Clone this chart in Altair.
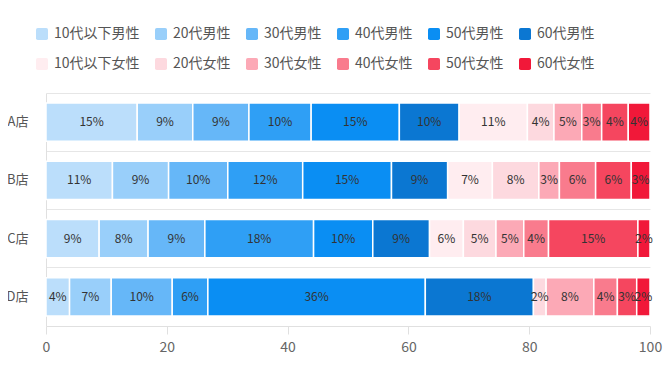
import altair as alt
import pandas as pd

stores = ["A店", "B店", "C店", "D店"]
groups = ["10代以下男性", "20代男性", "30代男性", "40代男性", "50代男性", "60代男性",
          "10代以下女性", "20代女性", "30代女性", "40代女性", "50代女性", "60代女性"]
colors = ["#bbdefb", "#99cffa", "#66b7f8", "#2f9ff5", "#0a8ef3", "#0b77d2",
          "#ffedf0", "#fdd9df", "#fca9b6", "#f97b8d", "#f5465f", "#f11839"]

values_a = [15.1, 9.2, 9.3, 10.3, 14.6, 9.9, 11.3, 4.4, 4.6, 3.3, 4.4, 3.6]
values_b = [11.0, 9.3, 9.8, 12.4, 14.7, 9.3, 7.4, 7.7, 3.4, 6.0, 5.9, 3.1]
values_c = [8.8, 8.1, 9.4, 18.0, 9.8, 9.4, 5.6, 5.4, 4.6, 4.1, 14.8, 2.0]
values_d = [3.9, 6.9, 10.1, 5.9, 36.0, 17.9, 0.0, 2.1, 7.9, 3.9, 3.2, 2.2]

rows = []
for store, vals in zip(stores, [values_a, values_b, values_c, values_d]):
    for i, (g, v) in enumerate(zip(groups, vals)):
        rows.append({"store": store, "group": g, "order": i, "value": v,
                     "label": f"{round(v):d}%"})
df = pd.DataFrame(rows)

FONT = "Noto Sans CJK JP"
rounded = ("M-0.7,-1 L0.7,-1 Q1,-1 1,-0.7 L1,0.7 Q1,1 0.7,1 L-0.7,1 "
           "Q-1,1 -1,0.7 L-1,-0.7 Q-1,-1 -0.7,-1 Z")

base = alt.Chart(df).transform_filter("datum.value > 0").transform_stack(
    stack="value", as_=["x0", "x1"], groupby=["store"],
    sort=[alt.SortField("order", order="ascending")]
)

y_enc = alt.Y("store:N", sort=stores, title=None,
              scale=alt.Scale(paddingInner=0, paddingOuter=0),
              axis=alt.Axis(grid=True, bandPosition=0, gridColor="#e6e6e6",
                            domainColor="#e0e0e0", ticks=False, labelPadding=18,
                            labelFontSize=13, labelColor="#555", labelFont=FONT))

bars = base.mark_bar(height=alt.RelativeBandSize(0.66), stroke="white",
                     strokeWidth=1.5).encode(
    x=alt.X("x0:Q", title=None,
            scale=alt.Scale(domain=[0, 100], nice=False),
            axis=alt.Axis(values=[0, 20, 40, 60, 80, 100], grid=False,
                          labelFlush=False,
                          domainColor="#e0e0e0", tickColor="#e0e0e0", tickSize=8,
                          labelPadding=6, labelFontSize=14, labelColor="#666",
                          labelFont=FONT)),
    x2="x1:Q",
    y=y_enc,
    color=alt.Color("group:N", sort=groups,
                    scale=alt.Scale(domain=groups, range=colors),
                    legend=alt.Legend(title=None, orient="none", legendX=-11,
                                      legendY=-66, columns=6, direction="horizontal",
                                      symbolType=rounded,
                                      symbolSize=144, symbolStrokeWidth=0,
                                      symbolOpacity=1,
                                      labelFontSize=14, labelColor="#555",
                                      labelFont=FONT, labelOffset=5,
                                      columnPadding=14, rowPadding=16,
                                      labelLimit=200)),
)

texts = base.transform_calculate(mid="(datum.x0 + datum.x1) / 2").mark_text(
    fontSize=12, color="#333", font=FONT
).encode(
    x=alt.X("mid:Q"),
    y=alt.Y("store:N", sort=stores),
    text="label:N",
)

chart = alt.layer(bars, texts).properties(
    width=604, height=233,
    autosize=alt.AutoSizeParams(type="none"),
    padding={"left": 38, "top": 85, "right": 13, "bottom": 30},
).configure_view(stroke=None)

chart.save("out.html", embed_options={"renderer": "svg", "actions": False})
